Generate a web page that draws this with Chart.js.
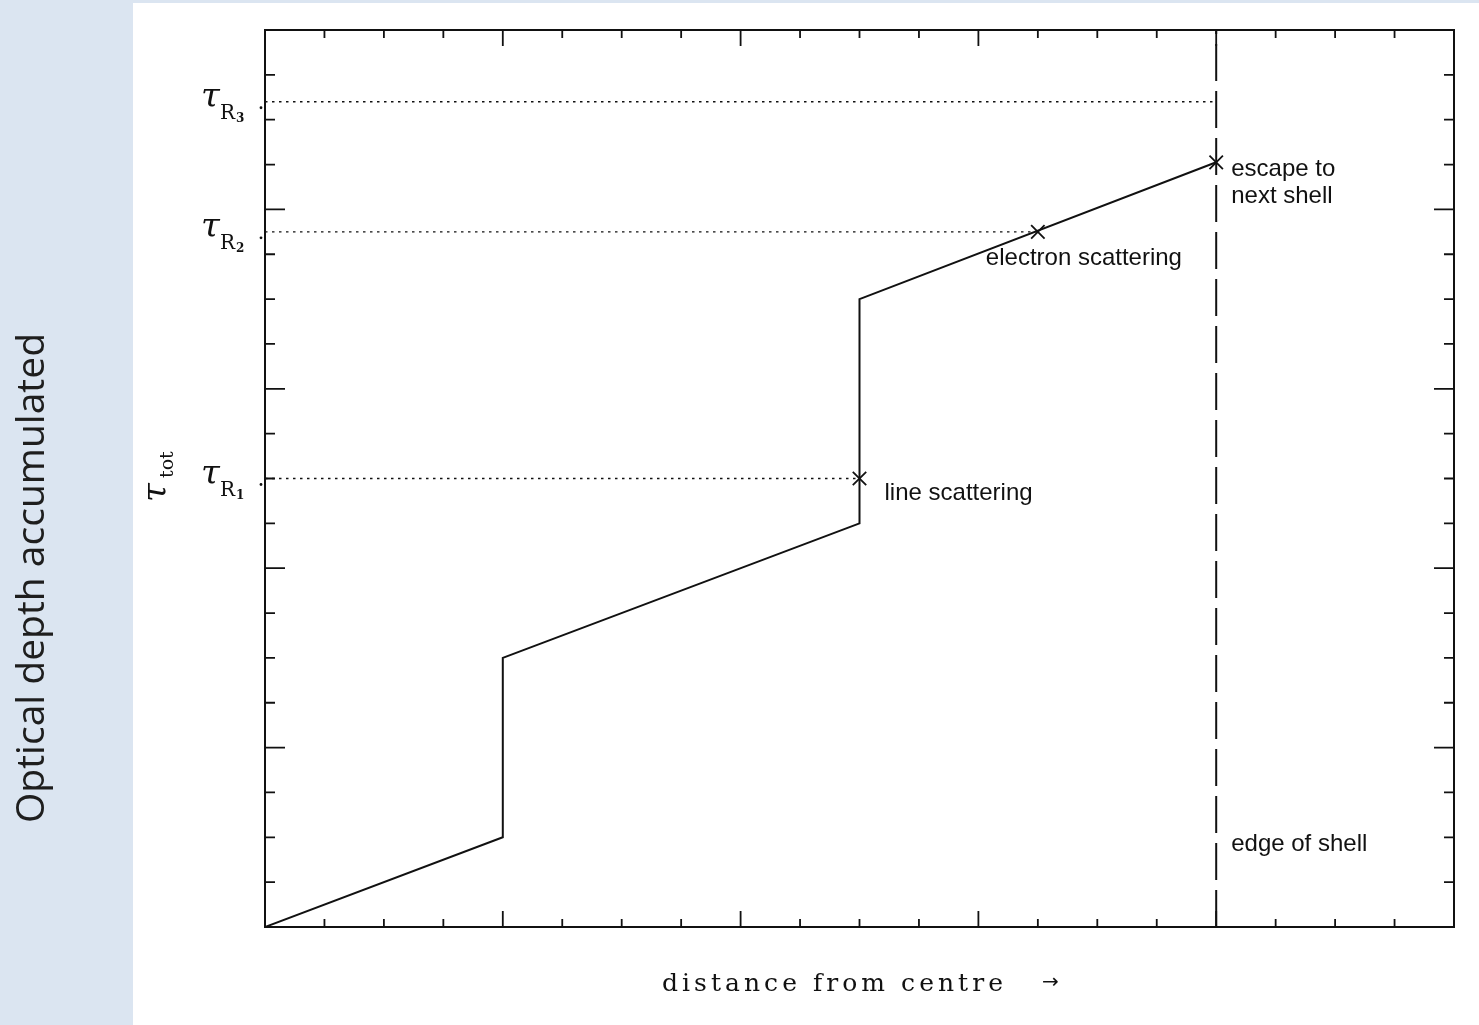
<!DOCTYPE html>
<html>
<head>
<meta charset="utf-8">
<title>Optical depth accumulated</title>
<script src="https://cdn.jsdelivr.net/npm/chart.js@4.4.1/dist/chart.umd.min.js"></script>
<style>
  html, body { margin: 0; padding: 0; background: #fff; }
  canvas { display: block; }
</style>
</head>
<body>
<canvas id="chart" width="1479" height="1025"></canvas>
<script>
// photon path: accumulated optical depth against distance from centre
const pathX = [0, 4, 4, 10, 10, 16];
const pathY = [0, 2, 6, 9, 14, 17.05];

// interaction events, marked with a cross
const eventX = [10, 13, 16];
const eventY = [10, 15.5, 17.05];
const eventLabels = [["line scattering"], ["electron scattering"], ["escape to", "next shell"]];

// optical depth drawn for each event (dotted guides back to the axis)
const tauLevels = [10, 15.5, 18.4];
const tauEnds = [10, 13, 16];
const tauNames = ["1", "2", "3"];

// shell boundary
const shellEdge = 16;
const shellLabel = "edge of shell";

// axis range and tick spacing (no numeric labels)
const axisMax = 20;
const minorStep = 1;
const majorStep = 4;

const ink = "#111";

function pts(xs, ys) {
    return xs.map((x, i) => ({ x: x, y: ys[i] }));
}

const datasets = [
    {
        data: pts(pathX, pathY),
        showLine: true,
        borderColor: ink,
        borderWidth: 2,
        pointRadius: 0,
    },
    {
        data: pts(eventX, eventY),
        showLine: false,
        pointStyle: "crossRot",
        pointRadius: 9.5,
        borderColor: ink,
        borderWidth: 1.8,
    },
];

tauLevels.forEach((t, i) => {
    datasets.push({
        data: pts([0, tauEnds[i]], [t, t]),
        showLine: true,
        borderColor: ink,
        borderWidth: 1.4,
        borderDash: [2.5, 4.5],
        pointRadius: 0,
    });
});

datasets.push({
    data: pts([shellEdge, shellEdge], [0, axisMax]),
    showLine: true,
    borderColor: ink,
    borderWidth: 2,
    borderDash: [37, 10],
    pointRadius: 0,
});

// frame, inward ticks and all the text around the plot
const decorations = {
    id: "decorations",
    beforeDraw(chart) {
        const ctx = chart.ctx;
        ctx.save();
        ctx.fillStyle = "#fff";
        ctx.fillRect(0, 0, chart.width, chart.height);
        // side panel with the slide title
        ctx.fillStyle = "#dbe5f1";
        ctx.fillRect(0, 0, 133, chart.height);
        ctx.fillRect(0, 0, chart.width, 3);
        ctx.translate(44, 578);
        ctx.rotate(-Math.PI / 2);
        ctx.fillStyle = "#1e1e1e";
        ctx.font = '39px "Open Sans"';
        ctx.textAlign = "center";
        ctx.textBaseline = "alphabetic";
        ctx.fillText("Optical depth accumulated", 0, 0);
        ctx.restore();
    },
    afterDatasetsDraw(chart) {
        const ctx = chart.ctx;
        const a = chart.chartArea;
        const xs = chart.scales.x;
        const ys = chart.scales.y;
        ctx.save();
        ctx.strokeStyle = ink;
        ctx.fillStyle = ink;

        ctx.lineWidth = 2;
        ctx.strokeRect(a.left, a.top, a.right - a.left, a.bottom - a.top);

        ctx.lineWidth = 1.8;
        ctx.beginPath();
        for (let v = minorStep; v < axisMax; v += minorStep) {
            const major = v % majorStep === 0;
            const px = xs.getPixelForValue(v);
            const lx = major ? 16 : 8;
            ctx.moveTo(px, a.bottom);
            ctx.lineTo(px, a.bottom - lx);
            ctx.moveTo(px, a.top);
            ctx.lineTo(px, a.top + lx);
            const py = ys.getPixelForValue(v);
            const ly = major ? 20 : 10;
            ctx.moveTo(a.left, py);
            ctx.lineTo(a.left + ly, py);
            ctx.moveTo(a.right, py);
            ctx.lineTo(a.right - ly, py);
        }
        ctx.stroke();

        // tau_R labels on the left of the axis
        tauLevels.forEach((t, i) => {
            const py = ys.getPixelForValue(t);
            ctx.textAlign = "left";
            ctx.font = 'italic 34px "DejaVu Serif"';
            ctx.fillText("τ", 201, py + 5);
            ctx.font = '20px "DejaVu Serif"';
            ctx.fillText("R", 220, py + 17);
            ctx.font = 'bold 12px "DejaVu Serif"';
            ctx.fillText(tauNames[i], 236, py + 20);
            ctx.beginPath();
            ctx.arc(261, py + 6, 1.4, 0, Math.PI * 2);
            ctx.fill();
        });

        // tau_tot, rotated
        ctx.save();
        ctx.translate(166, 502);
        ctx.rotate(-Math.PI / 2);
        ctx.font = 'italic 34px "DejaVu Serif"';
        ctx.fillText("τ", 0, 0);
        ctx.font = '19px "DejaVu Serif"';
        ctx.fillText("tot", 24, 7);
        ctx.restore();

        // event annotations
        const offsets = [[25, 21], [-52, 33], [15, 14]];
        ctx.font = '24px "Liberation Sans"';
        eventLabels.forEach((lines, i) => {
            const px = xs.getPixelForValue(eventX[i]) + offsets[i][0];
            const py = ys.getPixelForValue(eventY[i]) + offsets[i][1];
            lines.forEach((s, k) => ctx.fillText(s, px, py + k * 27));
        });
        ctx.fillText(shellLabel, xs.getPixelForValue(shellEdge) + 15, ys.getPixelForValue(1.7));

        // x axis title, spaced out like the original lettering
        const title = "distance from centre";
        ctx.font = '25px "DejaVu Serif"';
        const w0 = ctx.measureText(title).width;
        ctx.letterSpacing = ((345 - w0) / title.length).toFixed(2) + "px";
        ctx.fillText(title, 662, 991);
        ctx.letterSpacing = "0px";
        ctx.font = '20px "DejaVu Sans"';
        ctx.fillText("→", 1042, 988);

        ctx.restore();
    },
};

new Chart(document.getElementById("chart"), {
    type: "scatter",
    data: { datasets: datasets },
    options: {
        responsive: false,
        animation: false,
        devicePixelRatio: 1,
        layout: { padding: { left: 265, top: 30, right: 25, bottom: 98 } },
        scales: {
            x: { type: "linear", min: 0, max: axisMax, display: false },
            y: { type: "linear", min: 0, max: axisMax, display: false },
        },
        plugins: {
            legend: { display: false },
            tooltip: { enabled: false },
        },
    },
    plugins: [decorations],
});
</script>
</body>
</html>
